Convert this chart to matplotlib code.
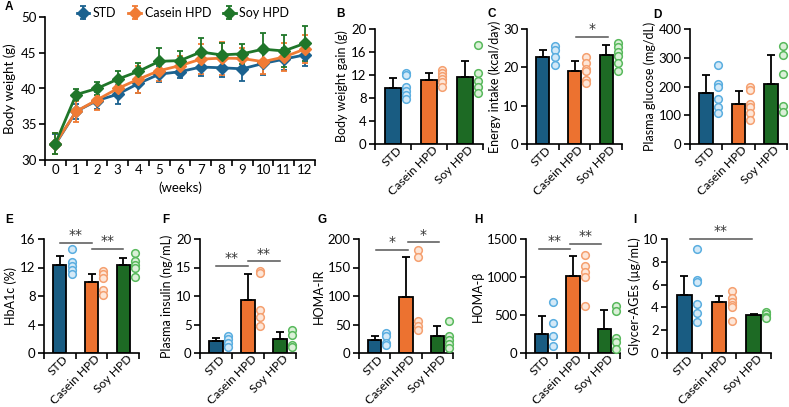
import numpy as np
import matplotlib
matplotlib.use("Agg")
import matplotlib.pyplot as plt
from matplotlib.ticker import FixedLocator
from matplotlib.transforms import ScaledTranslation

plt.rcParams["font.family"] = ["Lato", "DejaVu Sans"]
plt.rcParams["font.size"] = 9

groups = ["STD", "Casein HPD", "Soy HPD"]
bar_colors = ["#195c82", "#ec7230", "#1d6a24"]
dot_edges = ["#5aaee0", "#f5a070", "#58b95c"]
dot_faces = ["#d4e9f7", "#fde6d8", "#dbf0d8"]
line_colors = ["#1b6290", "#f07b34", "#1f7629"]

# panel A: body weight over 12 weeks
weeks = list(range(13))
std_bw = [32.2, 36.8, 38.3, 39.2, 40.7, 42.0, 42.35, 43.0, 42.9, 42.75, 43.5, 44.1, 44.7]
casein_bw = [32.3, 36.8, 38.4, 40.0, 41.3, 42.5, 43.2, 44.1, 44.25, 44.2, 43.75, 44.4, 45.5]
soy_bw = [32.3, 39.15, 40.0, 41.3, 42.4, 43.8, 43.9, 45.1, 44.7, 44.85, 45.5, 45.25, 46.3]
std_bw_sd = [1.4, 1.0, 1.2, 1.3, 1.3, 1.1, 0.9, 1.3, 1.3, 1.7, 1.6, 1.5, 1.5]
casein_bw_sd = [1.5, 1.5, 1.4, 1.2, 1.9, 1.5, 1.3, 2.1, 2.3, 1.5, 1.7, 2.0, 2.0]
soy_bw_sd = [1.5, 0.8, 0.9, 1.2, 1.1, 1.8, 1.4, 2.0, 1.7, 1.4, 2.2, 2.3, 2.4]

# bar panels: means, upper SD and individual points
gain_mean = [9.8, 11.2, 11.6]
gain_sd = [1.7, 1.2, 2.9]
gain_pts = [[12.4, 12.0, 9.9, 9.3, 8.6, 7.9], [12.9, 12.4, 11.9, 11.3, 10.7, 10.0], [17.2, 12.4, 10.9, 9.9, 8.8]]

intake_mean = [22.7, 19.1, 23.1]
intake_sd = [1.9, 2.5, 2.6]
intake_pts = [[25.6, 24.6, 22.7, 20.7], [22.7, 21.1, 19.6, 19.1, 16.6, 16.0], [26.3, 25.3, 24.1, 23.0, 21.1, 19.0]]

glucose_mean = [179, 140, 209]
glucose_sd = [61, 45, 100]
glucose_pts = [[276, 210, 200, 156, 130, 107], [198, 188, 140, 128, 107, 84], [342, 309, 244, 133, 113]]

hba1c_mean = [12.4, 9.9, 12.3]
hba1c_sd = [1.2, 1.2, 1.1]
hba1c_pts = [[14.6, 12.8, 12.2, 11.7, 11.1], [11.5, 11.1, 10.5, 8.9, 8.2], [14.1, 12.9, 12.4, 12.0, 10.7]]

insulin_mean = [2.05, 9.3, 2.45]
insulin_sd = [0.65, 4.5, 1.25]
insulin_pts = [[3.0, 2.5, 1.8, 1.1], [14.3, 14.0, 7.5, 6.4, 4.8], [4.0, 3.2, 1.4, 1.0]]

homa_ir_mean = [22, 98, 29]
homa_ir_sd = [7, 70, 18]
homa_ir_pts = [[35, 29, 17.5, 13.4], [180, 168, 57, 47, 40], [57, 29, 23, 15, 8]]

homa_b_mean = [254, 1018, 311]
homa_b_sd = [228, 254, 250]
homa_b_pts = [[667, 390, 224, 92], [1294, 1149, 1061, 1004, 618], [623, 548, 202, 140, 57]]

ages_mean = [5.1, 4.5, 3.3]
ages_sd = [1.66, 0.5, 0.14]
ages_pts = [[9.15, 6.4, 6.25, 4.3, 3.5, 2.7], [5.4, 4.8, 4.5, 4.2, 4.0, 2.8], [3.6, 3.44, 3.2, 3.06]]

W, H = 789, 407
fig = plt.figure(figsize=(W / 100, H / 100), dpi=100)


def px_axes(left, top, right, bottom):
    return fig.add_axes([left / W, 1 - bottom / H, (right - left) / W, (bottom - top) / H])


def style_axes(ax):
    for side in ["top", "right"]:
        ax.spines[side].set_visible(False)
    for side in ["left", "bottom"]:
        ax.spines[side].set_linewidth(1.2)
        ax.spines[side].set_color("black")
    ax.tick_params(axis="y", direction="out", length=4, width=1.2, pad=2, labelsize=9.5)
    ax.tick_params(axis="x", which="major", length=0, pad=3, labelsize=9.5)
    ax.tick_params(axis="x", which="minor", direction="out", length=4, width=1.2)


def bar_panel(ax, means, sds, pts, ymax, ystep, ylabel, sigs=()):
    x = np.arange(len(groups))
    ax.bar(x, means, width=0.42, color=bar_colors, edgecolor="black", linewidth=1.3, zorder=2)
    ax.errorbar(x, means, yerr=[np.zeros(3), sds], fmt="none", ecolor="black",
                elinewidth=1.3, capsize=3, capthick=1.3, zorder=3)
    for i, vals in enumerate(pts):
        ax.plot([i + 0.37] * len(vals), vals, "o", ms=5.5, mfc=dot_faces[i],
                mec=dot_edges[i], mew=1.1, zorder=4, clip_on=False)
    ax.set_xlim(-0.5, 2.5)
    ax.set_ylim(0, ymax)
    ax.set_yticks(np.arange(0, ymax + ystep / 2, ystep))
    ax.set_xticks(x)
    ax.xaxis.set_minor_locator(FixedLocator([-0.5, 0.5, 1.5, 2.5]))
    style_axes(ax)
    ax.tick_params(axis="x", which="major", pad=0)
    ax.set_xticklabels(groups, rotation=45, ha="right", va="top", rotation_mode="anchor",
                       fontsize=8.7)
    shift = ScaledTranslation(3 / 100, 0, fig.dpi_scale_trans)
    for lab in ax.get_xticklabels():
        lab.set_transform(lab.get_transform() + shift)
    ax.set_ylabel(ylabel, labelpad=2, fontsize=9)
    for x0, x1, y, txt in sigs:
        ax.plot([x0, x1], [y, y], color="#555555", lw=1.1, clip_on=False)
        ax.text((x0 + x1) / 2, y + ymax * 0.005, txt, ha="center", va="bottom",
                fontsize=10, color="#333333", family="DejaVu Sans")


# Panel A
axA = px_axes(45, 17, 315, 160)
for vals, sd, c, lab in zip([std_bw, casein_bw, soy_bw], [std_bw_sd, casein_bw_sd, soy_bw_sd],
                            line_colors, groups):
    axA.errorbar(weeks, vals, yerr=sd, color=c, marker="D", ms=6, lw=2, elinewidth=1.3,
                 capsize=2.5, capthick=1.3, label=lab)
axA.set_xlim(-0.5, 12.5)
axA.set_ylim(30, 50)
axA.set_yticks([30, 35, 40, 45, 50])
axA.set_xticks(weeks)
axA.xaxis.set_minor_locator(FixedLocator(np.arange(-0.5, 13, 1)))
axA.set_ylabel("Body weight (g)", labelpad=4, fontsize=9.5)
axA.set_xlabel("(weeks)", labelpad=4, fontsize=9.5)
style_axes(axA)
handles, labels = axA.get_legend_handles_labels()
fig.legend(handles, labels, loc="center left", bbox_to_anchor=(75.5 / W, 1 - 13 / H),
           ncol=3, frameon=False, handlelength=1.0, handletextpad=0.3, columnspacing=0.95,
           fontsize=9, borderpad=0.1, borderaxespad=0)

axB = px_axes(375, 29, 483, 144)
bar_panel(axB, gain_mean, gain_sd, gain_pts, 20, 4, "Body weight gain (g)")

axC = px_axes(527, 29, 622, 144)
bar_panel(axC, intake_mean, intake_sd, intake_pts, 30, 10, "Energy intake (kcal/day)",
          sigs=[(1.05, 2.05, 28.0, "*")])

axD = px_axes(690, 29, 787, 144)
bar_panel(axD, glucose_mean, glucose_sd, glucose_pts, 400, 100, "Plasma glucose (mg/dL)")

axE = px_axes(44, 239, 139, 353)
bar_panel(axE, hba1c_mean, hba1c_sd, hba1c_pts, 16, 4, "HbA1c (%)",
          sigs=[(0.0, 1.0, 15.5, "**"), (1.0, 2.0, 14.6, "**")])

axF = px_axes(200, 239, 296, 353)
bar_panel(axF, insulin_mean, insulin_sd, insulin_pts, 20, 5, "Plasma insulin (ng/mL)",
          sigs=[(0.0, 1.0, 15.3, "**"), (1.0, 2.0, 16.1, "**")])

axG = px_axes(359, 239, 453, 353)
bar_panel(axG, homa_ir_mean, homa_ir_sd, homa_ir_pts, 200, 50, "HOMA-IR",
          sigs=[(0.05, 1.05, 181, "*"), (1.05, 2.05, 194, "*")])

axH = px_axes(526, 239, 620, 353)
bar_panel(axH, homa_b_mean, homa_b_sd, homa_b_pts, 1500, 500, "HOMA-β",
          sigs=[(-0.1, 0.9, 1373, "**"), (0.9, 1.9, 1434, "**")])

axI = px_axes(667, 239, 771, 353)
bar_panel(axI, ages_mean, ages_sd, ages_pts, 10, 2, "Glycer-AGEs (µg/mL)",
          sigs=[(0.15, 1.95, 10.0, "**")])

letters = [("A", 5, 7), ("B", 336, 14), ("C", 488, 14), ("D", 653, 15), ("E", 5, 220),
           ("F", 162, 220), ("G", 318, 220), ("H", 474, 220), ("I", 633, 220)]
for lab, lx, ly in letters:
    fig.text(lx / W, 1 - ly / H, lab, fontsize=8.5, fontweight="bold",
             family="Liberation Sans", va="center", ha="left")

fig.savefig("out.png", dpi=100)
